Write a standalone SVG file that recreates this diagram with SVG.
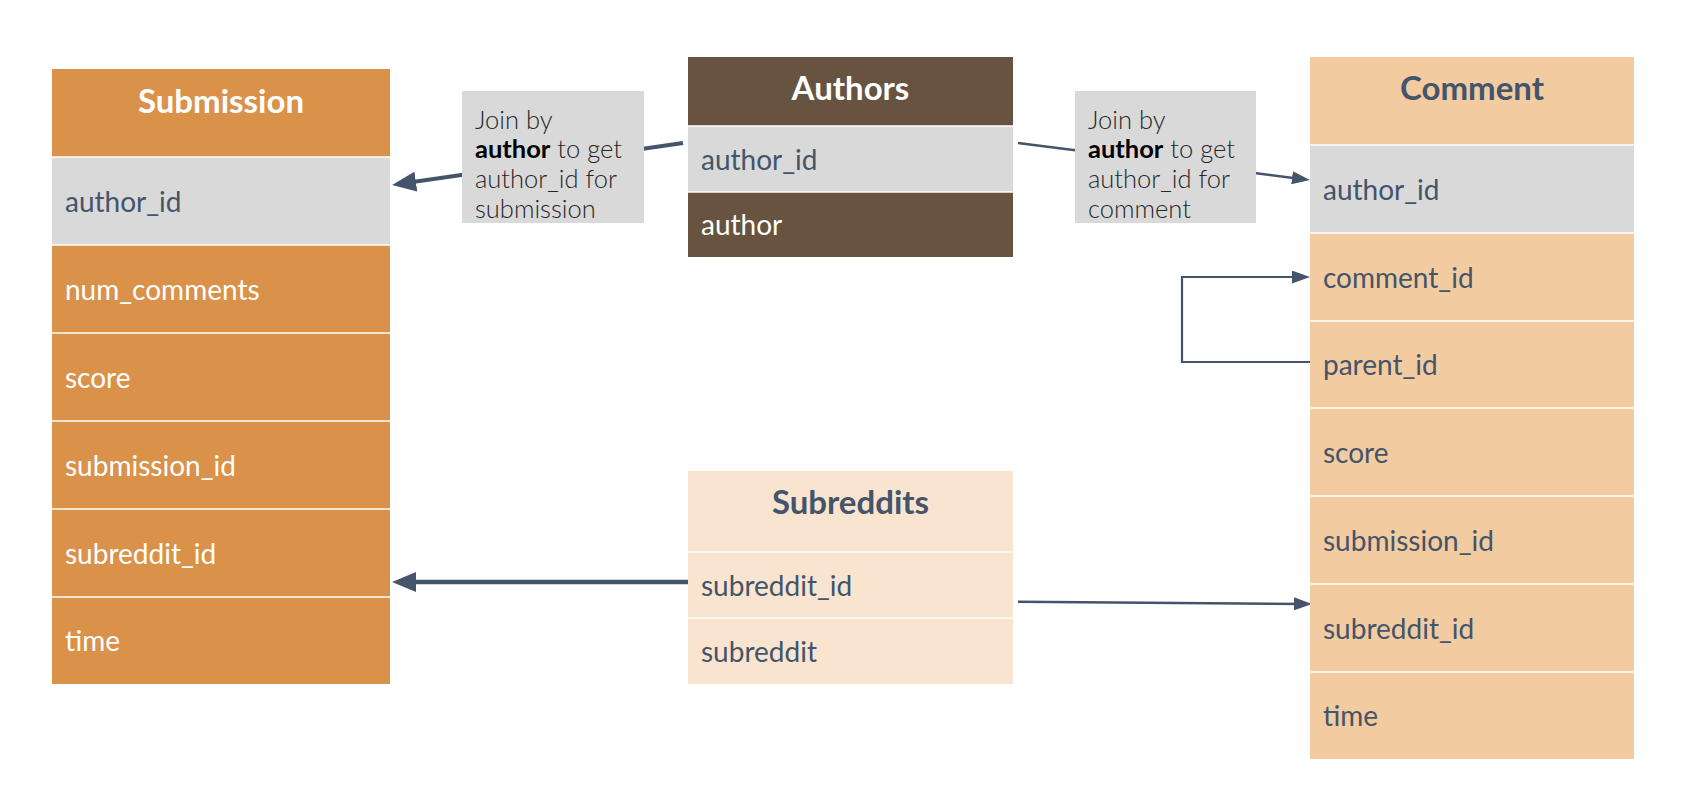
<svg xmlns="http://www.w3.org/2000/svg" width="1686" height="810" viewBox="0 0 1686 810">
<style>
.title{font-family:Lato,"Liberation Sans",sans-serif;font-weight:700;font-size:33px;text-anchor:middle}
.field{font-family:Lato,"Liberation Sans",sans-serif;font-size:28px}
.lbl{font-family:Lato,"Liberation Sans",sans-serif;font-weight:300;font-size:25.5px;fill:#262626}
.lbl tspan.b{font-weight:700;fill:#000000}
.sep{stroke:#ffffff;stroke-width:2;stroke-opacity:0.75}
.dark{fill:#44546A}
.white{fill:#ffffff}
.conn{fill:none;stroke:#44546A}
</style>
<defs>
<marker id="big" markerUnits="userSpaceOnUse" viewBox="0 0 24 20" refX="12" refY="10" markerWidth="24" markerHeight="20" orient="auto">
<path d="M0,0 L24,10 L0,20 z" fill="#44546A"/>
</marker>
<marker id="small" markerUnits="userSpaceOnUse" viewBox="0 0 18 13" refX="9" refY="6.5" markerWidth="18" markerHeight="13" orient="auto">
<path d="M0,0 L18,6.5 L0,13 z" fill="#44546A"/>
</marker>
</defs>
<rect width="1686" height="810" fill="#ffffff"/>

<g id="connectors">
<path class="conn" stroke-width="4" d="M683,143 L404,183.3" marker-end="url(#big)"/>
<path class="conn" stroke-width="2.5" d="M1018,143 L1301,178.9" marker-end="url(#small)"/>
<path class="conn" stroke-width="2.2" d="M1310,362 H1182 V277 H1301" marker-end="url(#small)"/>
<path class="conn" stroke-width="4.5" d="M690,582 H404" marker-end="url(#big)"/>
<path class="conn" stroke-width="2.5" d="M1018,601.7 L1303,603.9" marker-end="url(#small)"/>
</g>

<g id="label-submission">
<rect x="462" y="91" width="182" height="132" fill="#D9D9D9"/>
<text class="lbl" x="475" y="129">Join by</text>
<text class="lbl" x="475" y="158"><tspan class="b">author</tspan> to get</text>
<text class="lbl" x="475" y="188">author_id for</text>
<text class="lbl" x="475" y="218">submission</text>
</g>

<g id="label-comment">
<rect x="1075" y="91" width="181" height="132" fill="#D9D9D9"/>
<text class="lbl" x="1088" y="129">Join by</text>
<text class="lbl" x="1088" y="158"><tspan class="b">author</tspan> to get</text>
<text class="lbl" x="1088" y="188">author_id for</text>
<text class="lbl" x="1088" y="218">comment</text>
</g>

<g id="submission">
<rect x="52" y="69" width="338" height="615" fill="#DA924A"/>
<rect x="52" y="157" width="338" height="88" fill="#D9D9D9"/>
<line class="sep" x1="52" y1="157" x2="390" y2="157"/>
<line class="sep" x1="52" y1="245" x2="390" y2="245"/>
<line class="sep" x1="52" y1="333" x2="390" y2="333"/>
<line class="sep" x1="52" y1="421" x2="390" y2="421"/>
<line class="sep" x1="52" y1="509" x2="390" y2="509"/>
<line class="sep" x1="52" y1="597" x2="390" y2="597"/>
<text class="title white" x="221" y="113">Submission</text>
<text class="field dark" x="65" y="211.5">author_id</text>
<text class="field white" x="65" y="299.5">num_comments</text>
<text class="field white" x="65" y="387.5">score</text>
<text class="field white" x="65" y="475.5">submission_id</text>
<text class="field white" x="65" y="563.5">subreddit_id</text>
<text class="field white" x="65" y="651">time</text>
</g>

<g id="authors">
<rect x="688" y="57" width="325" height="200" fill="#67533F"/>
<rect x="688" y="126" width="325" height="66" fill="#D9D9D9"/>
<line class="sep" x1="688" y1="126" x2="1013" y2="126"/>
<line class="sep" x1="688" y1="192" x2="1013" y2="192"/>
<text class="title white" x="850.5" y="100">Authors</text>
<text class="field dark" x="701" y="169.5">author_id</text>
<text class="field white" x="701" y="235">author</text>
</g>

<g id="comment">
<rect x="1310" y="57" width="324" height="702" fill="#F3CBA0"/>
<rect x="1310" y="145" width="324" height="88" fill="#D9D9D9"/>
<line class="sep" x1="1310" y1="145" x2="1634" y2="145"/>
<line class="sep" x1="1310" y1="233" x2="1634" y2="233"/>
<line class="sep" x1="1310" y1="321" x2="1634" y2="321"/>
<line class="sep" x1="1310" y1="408" x2="1634" y2="408"/>
<line class="sep" x1="1310" y1="496" x2="1634" y2="496"/>
<line class="sep" x1="1310" y1="584" x2="1634" y2="584"/>
<line class="sep" x1="1310" y1="672" x2="1634" y2="672"/>
<text class="title dark" x="1472" y="100">Comment</text>
<text class="field dark" x="1323" y="199.5">author_id</text>
<text class="field dark" x="1323" y="287.5">comment_id</text>
<text class="field dark" x="1323" y="375">parent_id</text>
<text class="field dark" x="1323" y="462.5">score</text>
<text class="field dark" x="1323" y="550.5">submission_id</text>
<text class="field dark" x="1323" y="638.5">subreddit_id</text>
<text class="field dark" x="1323" y="726">time</text>
</g>

<g id="subreddits">
<rect x="688" y="471" width="325" height="213" fill="#F9E4D0"/>
<line class="sep" x1="688" y1="552" x2="1013" y2="552"/>
<line class="sep" x1="688" y1="618" x2="1013" y2="618"/>
<text class="title dark" x="850.5" y="514">Subreddits</text>
<text class="field dark" x="701" y="595.5">subreddit_id</text>
<text class="field dark" x="701" y="661.5">subreddit</text>
</g>
</svg>
